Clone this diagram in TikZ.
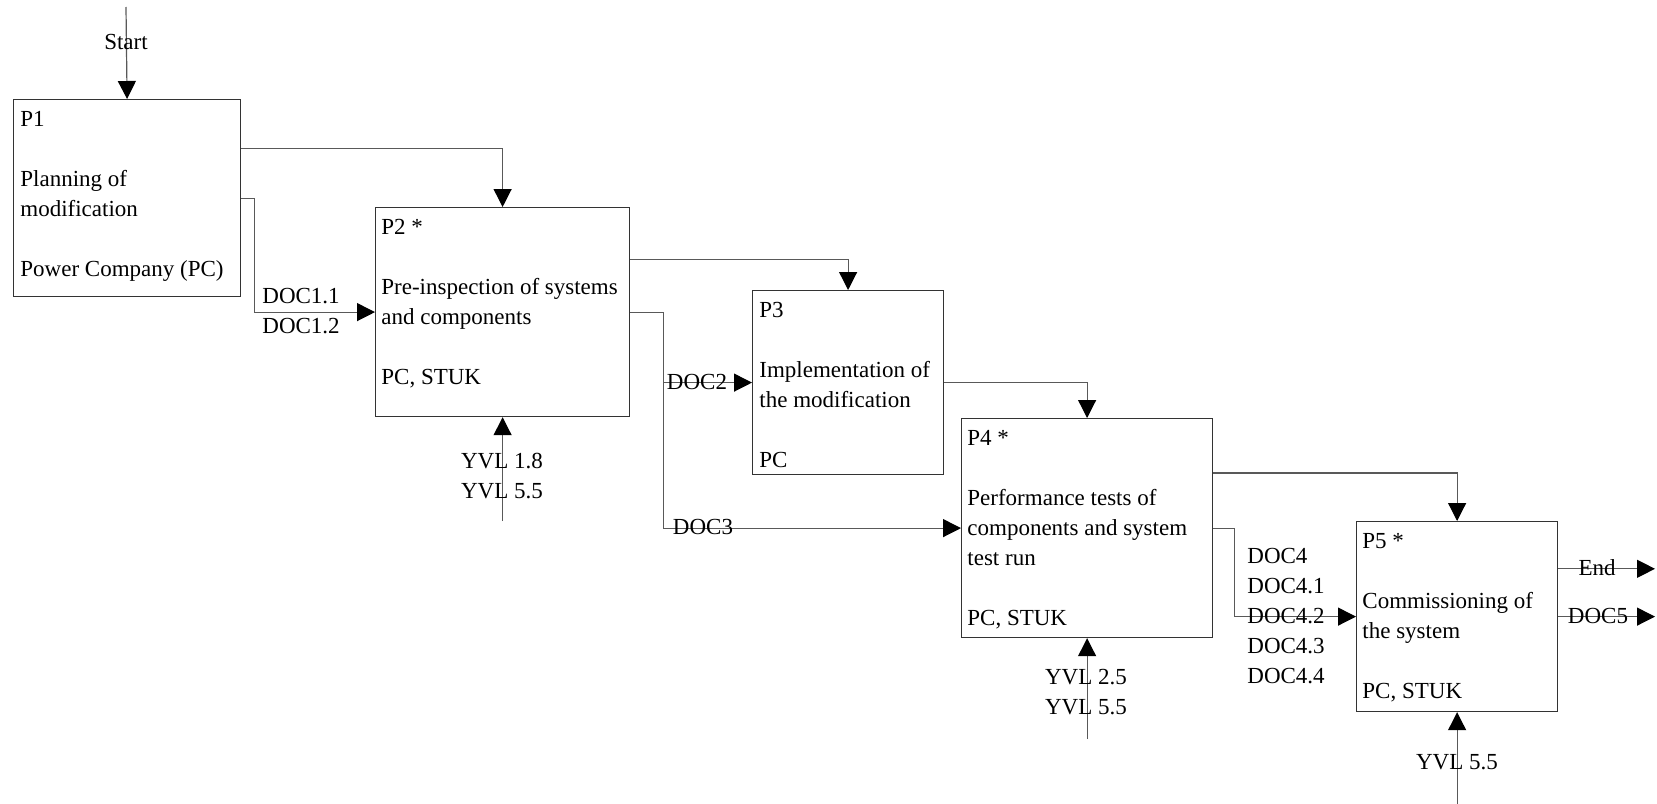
\documentclass[tikz,border=0pt]{standalone}
\usepackage{fontspec}
\setmainfont{Liberation Serif}
\usetikzlibrary{arrows.meta,calc}

\begin{document}
\begin{tikzpicture}
			[x=0.5pt, y=-0.5pt, font=\fontsize{11.5}{15}\selectfont,
			box/.style={draw=black!80, line width=0.6pt, inner sep=0pt, anchor=north west},
			txt/.style={anchor=north west, align=left, inner sep=0pt},
			lbl/.style={inner sep=0pt, align=left},
			flow/.style={draw=black!65, line width=0.6pt, -{Triangle[length=9pt,width=9pt,color=black]}}]
			\useasboundingbox (0,0) rectangle (1657,803);
			% process boxes
			\node[box, minimum width=113.5pt, minimum height=98.5pt] (p1) at (13,99) {};
			\node[box, minimum width=127pt, minimum height=104.5pt] (p2) at (375,207) {};
			\node[box, minimum width=95.5pt, minimum height=92pt] (p3) at (752,290) {};
			\node[box, minimum width=125.5pt, minimum height=109.5pt] (p4) at (961,418) {};
			\node[box, minimum width=100.5pt, minimum height=95pt] (p5) at (1356,521) {};
			\node[txt] (t1) at ($(p1.north west)+(7,6.5)$) {\strut P1\\[15pt]Planning of\\modification\\[15pt]Power Company (PC)};
			\node[txt] (t2) at ($(p2.north west)+(6,6.5)$) {\strut P2 *\\[15pt]Pre-inspection of systems\\and components\\[15pt]PC, STUK};
			\node[txt] (t3) at ($(p3.north west)+(7,6.5)$) {\strut P3\\[15pt]Implementation of\\the modification\\[15pt]PC};
			\node[txt] (t4) at ($(p4.north west)+(6,6.5)$) {\strut P4 *\\[15pt]Performance tests of\\components and system\\test run\\[15pt]PC, STUK};
			\node[txt] (t5) at ($(p5.north west)+(6,6.5)$) {\strut P5 *\\[15pt]Commissioning of\\the system\\[15pt]PC, STUK};
			% free ends
			\coordinate (start) at (126,7);
			\coordinate (stop) at (1655,0);
			\coordinate (y2) at ($(p2.south)+(0,104)$);
			\coordinate (y4) at ($(p4.south)+(0,101)$);
			\coordinate (y5) at ($(p5.south)+(0,92)$);
			\coordinate (o1) at ($(p1.north east)!0.25!(p1.south east)$);
			\coordinate (o2) at ($(p2.north east)!0.25!(p2.south east)$);
			\coordinate (o4) at ($(p4.north east)!0.25!(p4.south east)$);
			\coordinate (o5) at ($(p5.north east)!0.25!(p5.south east)$);
			% connectors
			\draw[flow] (start) -- (p1.north);
			\draw[flow] (o1) -| (p2.north);
			\draw[flow] (p1.east) -- ++(13,0) |- (p2.west);
			\draw[flow] (o2) -| (p3.north);
			\draw[flow] (p2.east) -- ++(33,0) |- (p3.west);
			\draw[flow] (p2.east) -- ++(33,0) |- (p4.west);
			\draw[flow] (p3.east) -| (p4.north);
			\draw[flow] (o4) -| (p5.north);
			\draw[flow] (p4.east) -- ++(21,0) |- (p5.west);
			\draw[flow] (o5) -- (o5 -| stop);
			\draw[flow] (p5.east) -- (p5.east -| stop);
			\draw[flow] (y2) -- (p2.south);
			\draw[flow] (y4) -- (p4.south);
			\draw[flow] (y5) -- (p5.south);
			% labels
			\node[lbl] (lstart) at (126,42) {Start};
			\node[lbl, anchor=west] (d1) at (262,311) {DOC1.1\\DOC1.2};
			\node[lbl] (d2) at (697,382) {DOC2};
			\node[lbl] (d3) at (703,527) {DOC3};
			\node[lbl, anchor=west] (d4) at (1247,616) {DOC4\\DOC4.1\\DOC4.2\\DOC4.3\\DOC4.4};
			\node[lbl] (lend) at (1597,568) {End};
			\node[lbl] (d5) at (1598,616) {DOC5};
			\node[lbl, align=center] (v2) at (502,476) {YVL 1.8\\YVL 5.5};
			\node[lbl, align=center] (v4) at (1086,692) {YVL 2.5\\YVL 5.5};
			\node[lbl] (v5) at (1457,762) {YVL 5.5};
		\end{tikzpicture}
\end{document}
